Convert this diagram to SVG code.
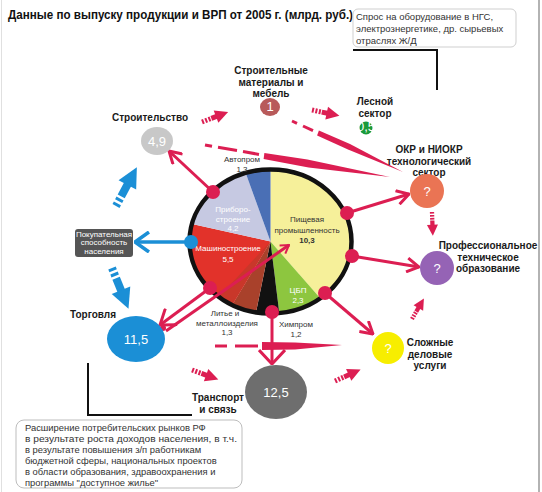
<svg xmlns="http://www.w3.org/2000/svg" xmlns:xlink="http://www.w3.org/1999/xlink" width="542" height="492" viewBox="0 0 542 492">
<style>
text{font-family:"Liberation Sans",Arial,sans-serif}
.b{font-weight:bold;font-size:10px;fill:#1a1a1a;text-anchor:middle}
.s{font-size:8px;fill:#333;text-anchor:middle}
.w{font-size:8px;fill:#fff;text-anchor:middle}
.n{fill:#fff;text-anchor:middle;font-size:13px}
.r{stroke:#dc1e52;fill:none;stroke-width:3}
.rf{fill:#dc1e52}
.bl{fill:#1b8fd6}
.box{font-size:9.5px;fill:#333}
.bt{font-size:9.4px;fill:#333}
</style>
<defs>
<marker id="vr" viewBox="0 0 14 16" refX="13" refY="8" markerWidth="14" markerHeight="16" markerUnits="userSpaceOnUse" orient="auto">
<path d="M1,1 L13,8 L1,15" fill="none" stroke="#dc1e52" stroke-width="3"/>
</marker>
<marker id="vrs" viewBox="0 0 10 12" refX="9" refY="6" markerWidth="10" markerHeight="12" markerUnits="userSpaceOnUse" orient="auto">
<path d="M1,1 L9,6 L1,11" fill="none" stroke="#dc1e52" stroke-width="2"/>
</marker>
<marker id="vrb" viewBox="0 0 16 28" refX="15" refY="14" markerWidth="16" markerHeight="28" markerUnits="userSpaceOnUse" orient="auto">
<path d="M1,1 L15,14 L1,27" fill="none" stroke="#dc1e52" stroke-width="3"/>
</marker>
<marker id="vrt" viewBox="0 0 16 22" refX="15" refY="11" markerWidth="16" markerHeight="22" markerUnits="userSpaceOnUse" orient="auto">
<path d="M1,1 L15,11 L1,21" fill="none" stroke="#dc1e52" stroke-width="3"/>
</marker>
<marker id="vb" viewBox="0 0 16 22" refX="15" refY="11" markerWidth="16" markerHeight="22" markerUnits="userSpaceOnUse" orient="auto">
<path d="M1,1 L15,11 L1,21" fill="none" stroke="#1b8fd6" stroke-width="3.5"/>
</marker>
<g id="rs" class="rf"><rect x="0" y="-2.5" width="2" height="5"/><rect x="3.5" y="-2.5" width="2" height="5"/><rect x="7" y="-2.5" width="2" height="5"/><rect x="10" y="-2.5" width="7" height="5"/><polygon points="15,-6.5 28,0 15,6.5"/></g>
<g id="bs" class="bl"><rect x="0" y="-4" width="3" height="8"/><rect x="5.5" y="-4" width="3" height="8"/><rect x="11" y="-4" width="16" height="8"/><polygon points="24,-10 44,0 24,10"/></g>
</defs>
<rect width="542" height="492" fill="#fff"/>
<line x1="1.5" y1="0" x2="1.5" y2="492" stroke="#e0e0e0" stroke-width="1"/>
<line x1="539" y1="0" x2="539" y2="492" stroke="#9a9a9a" stroke-width="1.5"/>

<text x="8" y="19" font-size="12" font-weight="bold" fill="#111" textLength="345" lengthAdjust="spacingAndGlyphs">Данные по выпуску продукции и ВРП от 2005 г. (млрд. руб.)</text>

<g id="demand-note">
<rect x="353" y="9" width="163" height="38" rx="5" fill="#fff" stroke="#cfcfcf"/>
<text class="box" x="356" y="20">Спрос на оборудование в НГС,</text>
<text class="box" x="356" y="32">электрознергетике, др. сырьевых</text>
<text class="box" x="356" y="44">отраслях Ж/Д</text>
<path d="M353,50 H437 V90" fill="none" stroke="#111" stroke-width="2"/>
</g>

<g id="pie">
<path d="M270.5,241.5 L270.5,168.5 A82,73 0 0,1 320.9,299.1 Z" fill="#f6f09a"/>
<path d="M270.5,241.5 L320.9,299.1 A82,73 0 0,1 279.4,314.1 Z" fill="#8dc63f"/>
<path d="M270.5,241.5 L279.4,314.1 A82,73 0 0,1 255.8,313.3 Z" fill="#111"/>
<path d="M270.5,241.5 L255.8,313.3 A82,73 0 0,1 231.6,305.8 Z" fill="#a9412b"/>
<path d="M270.5,241.5 L231.6,305.8 A82,73 0 0,1 191.0,223.7 Z" fill="#e2322a"/>
<path d="M270.5,241.5 L231.6,305.8 A82,73 0 0,1 218,298 Z" fill="#c9372a"/>
<path d="M270.5,241.5 L191.0,223.7 A82,73 0 0,1 245.3,172.0 Z" fill="#c6c9e2"/>
<path d="M270.5,241.5 L245.3,172.0 A82,73 0 0,1 270.5,168.5 Z" fill="#4a6fb5"/>
<ellipse cx="270.5" cy="241.5" rx="81" ry="72" fill="none" stroke="#111" stroke-width="4.5"/>
<text class="s" x="242" y="162">Автопром</text>
<text class="s" x="242" y="172">1,3</text>
<text class="w" x="233" y="212">Приборо-</text>
<text class="w" x="233" y="221.5">строение</text>
<text class="w" x="233" y="231">4,2</text>
<text class="w" x="228" y="251" font-size="9">Машиностроение</text>
<text class="w" x="228" y="261.5" font-size="9">5,5</text>
<text class="s" x="307" y="222" font-size="9" fill="#222">Пищевая</text>
<text class="s" x="307" y="232.5" font-size="9" fill="#222">промышленность</text>
<text class="s" x="307" y="243" font-size="9" font-weight="bold" fill="#222">10,3</text>
<text class="w" x="298" y="293">ЦБП</text>
<text class="w" x="298" y="302.5">2,3</text>
<text class="s" x="225" y="316">Литье и</text>
<text class="s" x="227" y="325.5">металлоизделия</text>
<text class="s" x="227" y="335">1,3</text>
<text class="s" x="296" y="327">Химпром</text>
<text class="s" x="296" y="336.5">1,2</text>
</g>

<g id="connectors">
<line class="r" x1="213" y1="192" x2="169" y2="151" marker-end="url(#vr)"/>
<line class="r" x1="347" y1="213" x2="409" y2="194" marker-end="url(#vr)"/>
<line class="r" x1="352" y1="256" x2="419" y2="267" marker-end="url(#vr)"/>
<line class="r" x1="325" y1="293" x2="373" y2="334" marker-end="url(#vr)"/>
<line class="r" x1="272" y1="312" x2="272" y2="364" marker-end="url(#vrb)"/>
<line class="r" x1="210" y1="288" x2="160" y2="325" stroke-width="2.5" marker-end="url(#vrt)"/>
<line class="r" x1="166" y1="331" x2="289" y2="245" stroke-width="1.6" marker-end="url(#vrs)"/>
<circle class="rf" cx="163" cy="328" r="3"/>
<line x1="191" y1="242" x2="135" y2="242" stroke="#1b8fd6" stroke-width="3.5" marker-end="url(#vb)"/>
<g class="r" stroke-width="4">
<line x1="205" y1="145" x2="212" y2="146.3"/>
<line x1="218" y1="147.3" x2="237" y2="150.6"/>
<line x1="243" y1="151.6" x2="259" y2="154.4"/>
<line x1="292" y1="121" x2="297" y2="123.3"/>
<line x1="303" y1="126" x2="313" y2="130.6"/>
<line x1="215" y1="346" x2="227" y2="346"/>
<line x1="235" y1="346" x2="258" y2="346"/>
</g>
<polygon class="rf" points="264.4,153 307.4,159.4 390,177 308.6,167.4 263.6,159"/>
<polygon class="rf" points="318.9,130.5 350,144 403,172 348,149.5 317.1,135.5"/>
<polygon class="rf" points="262,342 295,342.5 342,345 295,349.5 262,350"/>
<use xlink:href="#bs" transform="translate(116,206) rotate(-61.7)"/>
<use xlink:href="#bs" transform="translate(112,268) rotate(68)"/>
<use xlink:href="#rs" transform="translate(202,122) rotate(-21)"/>
<use xlink:href="#rs" transform="translate(312,110) rotate(12)"/>
<use xlink:href="#rs" transform="translate(432,212) rotate(88) scale(0.85)"/>
<use xlink:href="#rs" transform="translate(412,319) rotate(-60) scale(0.85)"/>
<use xlink:href="#rs" transform="translate(192,370) rotate(20)"/>
<use xlink:href="#rs" transform="translate(335,381) rotate(-24)"/>
<circle class="rf" cx="213" cy="192" r="7"/>
<circle class="rf" cx="347" cy="213" r="7"/>
<circle class="rf" cx="352" cy="256" r="7"/>
<circle class="rf" cx="325" cy="293" r="7"/>
<circle class="rf" cx="272" cy="312" r="7"/>
<circle class="rf" cx="210" cy="288" r="7"/>
<circle class="bl" cx="191" cy="242" r="7"/>
</g>

<g id="construction">
<text class="b" x="150" y="121">Строительство</text>
<ellipse cx="157" cy="141" rx="16" ry="14" fill="#c8c8c8"/>
<text class="n" x="157" y="146" font-size="12" fill="#f4f4f4">4,9</text>
</g>

<g id="building-materials">
<text class="b" x="271" y="74">Строительные</text>
<text class="b" x="271" y="85.5">материалы и</text>
<text class="b" x="271" y="97">мебель</text>
<ellipse cx="270" cy="107" rx="10" ry="9" fill="#b85a5a"/>
<text class="n" x="270" y="111" font-size="11">1</text>
</g>

<g id="forest">
<text class="b" x="375" y="105">Лесной</text>
<text class="b" x="375" y="116.5">сектор</text>
<circle cx="366" cy="128" r="6.5" fill="#1a9a3a"/>
<text class="n" x="366" y="130.5" font-size="6.5">0,5</text>
</g>

<g id="rnd">
<text class="b" x="429" y="153">ОКР и НИОКР</text>
<text class="b" x="429" y="164.5">технологический</text>
<text class="b" x="429" y="176">сектор</text>
<circle cx="427" cy="191" r="17" fill="#ea7454"/>
<text class="n" x="427" y="196" font-size="12">?</text>
</g>

<g id="vocational">
<text class="b" x="488" y="249">Профессиональное</text>
<text class="b" x="488" y="260.5">техническое</text>
<text class="b" x="488" y="272">образование</text>
<circle cx="437" cy="268" r="17" fill="#9563b5"/>
<text class="n" x="437" y="273" font-size="12">?</text>
</g>

<g id="business-services">
<text class="b" x="430" y="346">Сложные</text>
<text class="b" x="430" y="357.5">деловые</text>
<text class="b" x="430" y="369">услуги</text>
<circle cx="388" cy="348" r="16" fill="#f7ee00"/>
<text class="n" x="388" y="353" font-size="12">?</text>
</g>

<g id="purchasing-power">
<rect x="75" y="229" width="58" height="28" rx="3" fill="#555"/>
<text class="w" x="104" y="236.5" font-size="7">Покупательная</text>
<text class="w" x="104" y="245" font-size="7">способность</text>
<text class="w" x="104" y="253.5" font-size="7">населения</text>
</g>

<g id="trade">
<text class="b" x="93" y="318">Торговля</text>
<ellipse cx="136" cy="339" rx="29" ry="23" fill="#1b8fd6"/>
<text class="n" x="136" y="344">11,5</text>
</g>

<g id="transport">
<ellipse cx="276" cy="392" rx="31" ry="27" fill="#6e6e6e"/>
<text class="n" x="276" y="397">12,5</text>
<text class="b" x="218" y="401">Транспорт</text>
<text class="b" x="218" y="412.5">и связь</text>
</g>

<g id="consumer-note">
<path d="M88,363 V415 H192" fill="none" stroke="#111" stroke-width="2"/>
<rect x="16" y="420" width="226" height="68" rx="8" fill="#fff" stroke="#bdbdbd"/>
<text class="bt" x="25" y="431">Расширение потребительских рынков РФ</text>
<text class="bt" x="25" y="441.9" textLength="212" lengthAdjust="spacingAndGlyphs">в результате роста доходов населения, в т.ч.</text>
<text class="bt" x="25" y="452.8">в результате повышения з/п работникам</text>
<text class="bt" x="25" y="463.7">бюджетной сферы, национальных проектов</text>
<text class="bt" x="25" y="474.6">в области образования, здравоохранения и</text>
<text class="bt" x="25" y="485.5">программы "доступное жилье"</text>
</g>
</svg>
